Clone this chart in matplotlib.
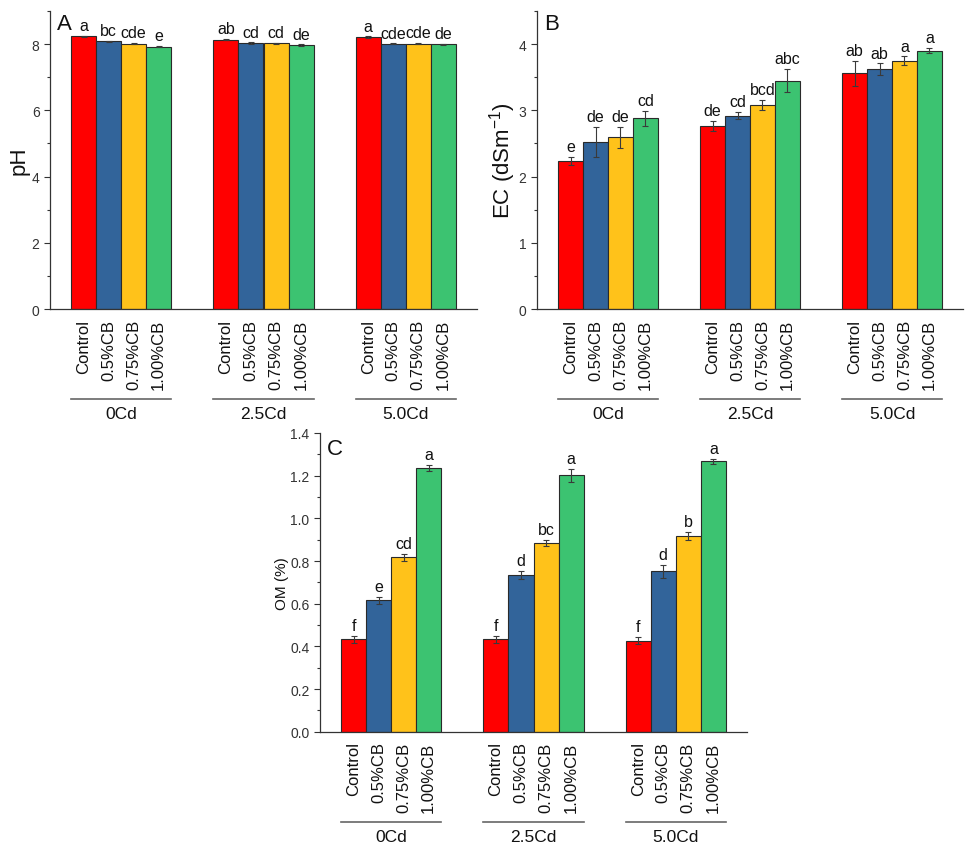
import matplotlib
matplotlib.use("Agg")
import matplotlib.pyplot as plt
import numpy as np
from matplotlib.ticker import MultipleLocator

plt.rcParams['font.family'] = ['Liberation Sans', 'DejaVu Sans']
plt.rcParams['mathtext.fontset'] = 'custom'
plt.rcParams['mathtext.rm'] = 'Liberation Sans'

groups = ["0Cd", "2.5Cd", "5.0Cd"]
treatments = ["Control", "0.5%CB", "0.75%CB", "1.00%CB"]
colors = ["#FF0000", "#32649A", "#FFC21A", "#3CC371"]

# rows: groups, cols: treatments
ph_vals = [[8.23, 8.08, 8.01, 7.92],
           [8.13, 8.03, 8.02, 7.97],
           [8.21, 8.01, 8.01, 7.99]]
ph_err = [[0.02, 0.02, 0.02, 0.02],
          [0.02, 0.02, 0.02, 0.02],
          [0.02, 0.01, 0.02, 0.02]]
ph_let = [["a", "bc", "cde", "e"],
          ["ab", "cd", "cd", "de"],
          ["a", "cde", "cde", "de"]]

ec_vals = [[2.24, 2.52, 2.59, 2.88],
           [2.76, 2.92, 3.08, 3.45],
           [3.56, 3.62, 3.75, 3.90]]
ec_err = [[0.06, 0.23, 0.16, 0.11],
          [0.075, 0.055, 0.075, 0.17],
          [0.19, 0.09, 0.065, 0.04]]
ec_let = [["e", "de", "de", "cd"],
          ["de", "cd", "bcd", "abc"],
          ["ab", "ab", "a", "a"]]

om_vals = [[0.433, 0.616, 0.817, 1.235],
           [0.433, 0.734, 0.884, 1.201],
           [0.427, 0.751, 0.918, 1.268]]
om_err = [[0.015, 0.017, 0.016, 0.015],
          [0.015, 0.018, 0.015, 0.030],
          [0.016, 0.030, 0.018, 0.012]]
om_let = [["f", "e", "cd", "a"],
          ["f", "d", "bc", "a"],
          ["f", "d", "b", "a"]]

W, H = 975, 853
fig = plt.figure(figsize=(W / 100, H / 100), dpi=100)

def px_axes(x0, x1, ytop, ybot):
    return fig.add_axes([x0 / W, 1 - ybot / H, (x1 - x0) / W, (ybot - ytop) / H])

axA = px_axes(50, 477, 12, 310)
axB = px_axes(537, 963, 12, 310)
axC = px_axes(320, 747, 434, 732.7)

bw = 0.176
offs = (np.arange(4) - 1.5) * bw

def draw(ax, vals, errs, lets, ylim, major, minor, ylabel, ylab_size, ylab_x,
         letter, letter_y):
    vals = np.array(vals)
    errs = np.array(errs)
    xs_all = []
    labels_all = []
    for g in range(len(groups)):
        for t in range(4):
            x = g + offs[t]
            ax.bar(x, vals[g, t], width=bw, color=colors[t], edgecolor="#2a2a2a",
                   linewidth=0.8, zorder=2)
            ax.errorbar(x, vals[g, t], yerr=errs[g, t], fmt="none",
                        ecolor="#3a3a3a", elinewidth=0.8, capsize=2.5,
                        capthick=0.8, zorder=3)
            ax.annotate(lets[g][t], (x, vals[g, t] + errs[g, t]),
                        xytext=(0, 2), textcoords="offset points",
                        ha="center", va="bottom", fontsize=11.5, color="#111111")
            xs_all.append(x)
            labels_all.append(treatments[t])
    ax.set_xlim(-0.5, 2.5)
    ax.set_ylim(*ylim)
    ax.set_xticks(xs_all)
    ax.set_xticklabels(labels_all, rotation=90, fontsize=12, color="#111111")
    ax.tick_params(axis="x", length=0, pad=7)
    ax.yaxis.set_major_locator(MultipleLocator(major))
    ax.yaxis.set_minor_locator(MultipleLocator(minor))
    ax.tick_params(axis="y", which="major", length=4, width=0.8,
                   labelsize=10, colors="#333333", labelcolor="#333333")
    ax.tick_params(axis="y", which="minor", length=2.5, width=0.8, colors="#333333")
    for s in ["top", "right"]:
        ax.spines[s].set_visible(False)
    for s in ["left", "bottom"]:
        ax.spines[s].set_color("#333333")
        ax.spines[s].set_linewidth(0.9)
    ax.text(ylab_x, 0.5, ylabel, rotation=90,
            ha="center", va="center", fontsize=ylab_size,
            transform=ax.transAxes, color="#111111")
    ax.text(0.016, letter_y, letter, transform=ax.transAxes, fontsize=16,
            va="baseline", ha="left", color="#111111")
    trans = ax.get_xaxis_transform()
    for g, name in enumerate(groups):
        x0 = g + offs[0] - bw / 2
        x1 = g + offs[-1] + bw / 2
        ax.plot([x0, x1], [-0.302, -0.302], transform=trans, color="#666666",
                lw=1.2, clip_on=False)
        ax.text(g, -0.352, name, transform=trans, ha="center", va="center",
                fontsize=12.5, color="#111111")

draw(axA, ph_vals, ph_err, ph_let, (0, 9), 2, 1, "pH", 16, -0.072, "A", 0.94)
draw(axB, ec_vals, ec_err, ec_let, (0, 4.5), 1, 0.5,
     r"EC (dSm$^{\mathregular{-1}}$)", 16, -0.082, "B", 0.94)
draw(axC, om_vals, om_err, om_let, (0, 1.4), 0.2, 0.1, "OM (%)", 11, -0.09,
     "C", 0.93)

fig.savefig("out.png", dpi=100)
